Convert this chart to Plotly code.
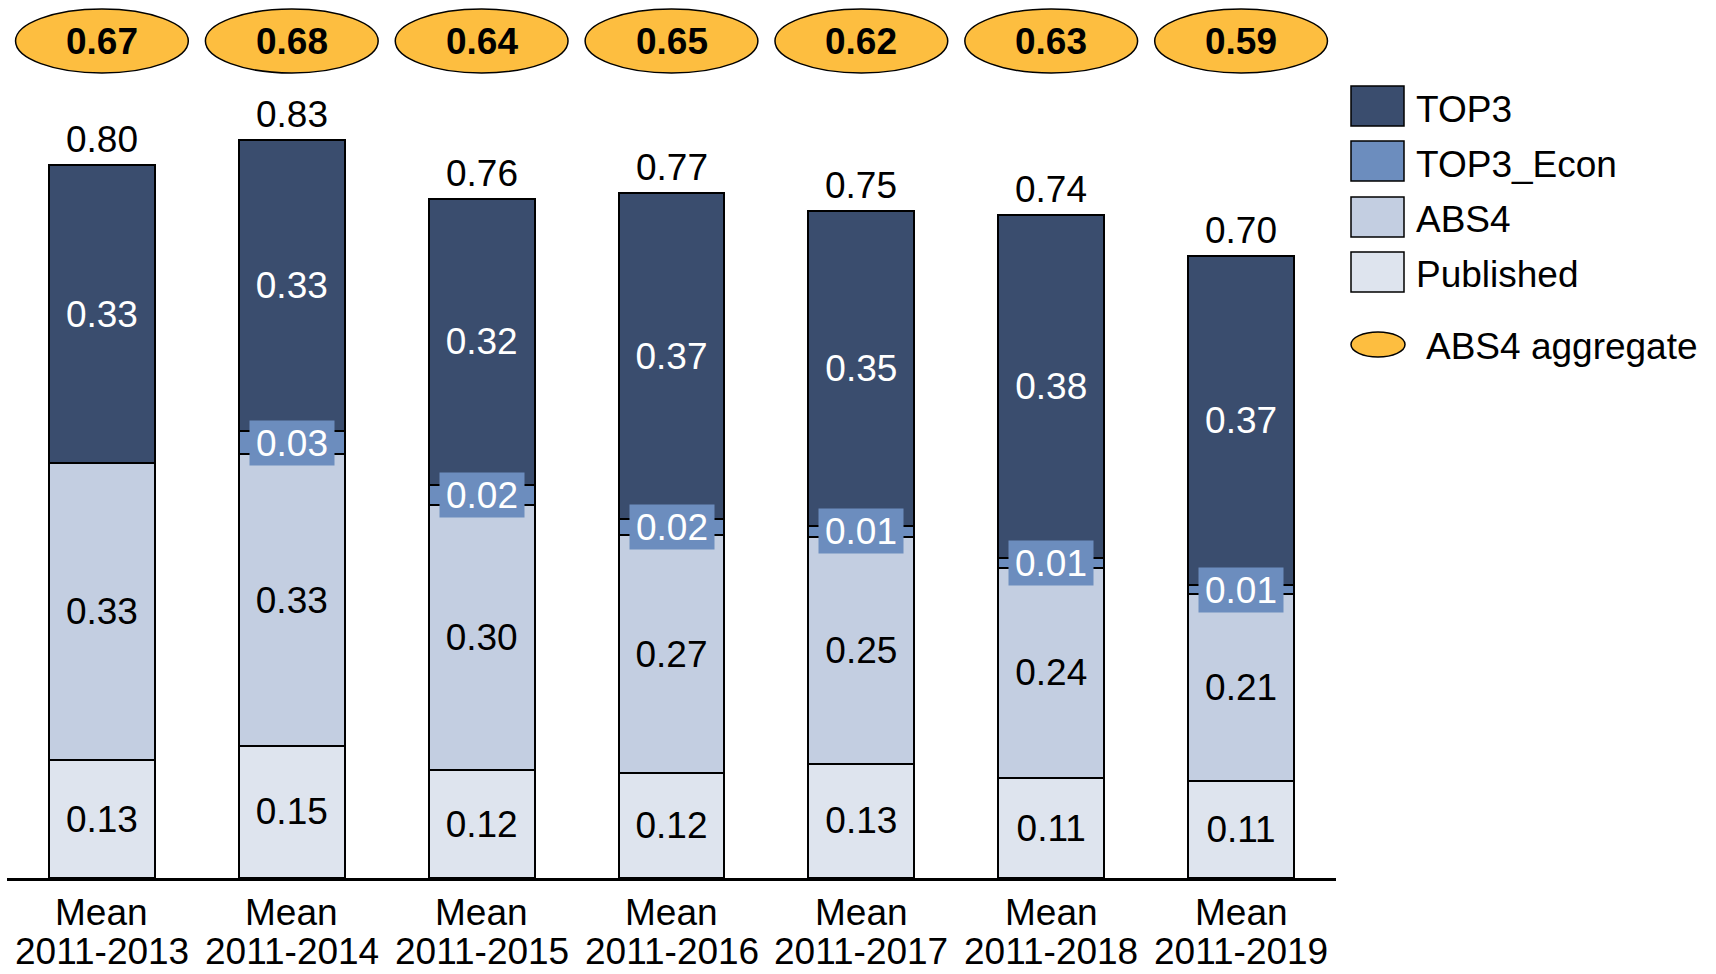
import plotly.graph_objects as go

# ---------------- data ----------------
periods = ["2011-2013", "2011-2014", "2011-2015", "2011-2016", "2011-2017", "2011-2018", "2011-2019"]
period_prefix = "Mean"
top3 = [0.334, 0.326, 0.320, 0.366, 0.353, 0.384, 0.369]
top3_econ = [0.0, 0.026, 0.023, 0.018, 0.013, 0.011, 0.010]
abs4 = [0.333, 0.327, 0.297, 0.266, 0.254, 0.236, 0.209]
published = [0.132, 0.148, 0.121, 0.118, 0.128, 0.112, 0.109]
abs4_aggregate = [0.67, 0.68, 0.64, 0.65, 0.62, 0.63, 0.59]

series_names = ["TOP3", "TOP3_Econ", "ABS4", "Published"]
colors = {"TOP3": "#3A4D6E", "TOP3_Econ": "#6C8DBE", "ABS4": "#C3CEE1", "Published": "#DEE4EE"}
gold = "#FDBE40"
FONT = "Liberation Sans, Arial, sans-serif"

W, H = 1716, 974
L, R, T, B = 7, 380, 0, 96
PW, PH = W - L - R, H - T - B
PX_PER_UNIT = 892.0


def px_x(px):
    return (px - L) / PW


def px_y(py):
    return (PH - py) / PH


x = list(range(len(periods)))
fmt = lambda v: f"{v:.2f}"

fig = go.Figure()
fig.add_trace(go.Bar(x=x, y=published, name="Published", marker=dict(color=colors["Published"], line=dict(color="black", width=2)),
                     text=[fmt(v) for v in published], textposition="inside", insidetextanchor="middle",
                     textfont=dict(size=37, color="black", family=FONT), textangle=0))
fig.add_trace(go.Bar(x=x, y=abs4, name="ABS4", marker=dict(color=colors["ABS4"], line=dict(color="black", width=2)),
                     text=[fmt(v) for v in abs4], textposition="inside", insidetextanchor="middle",
                     textfont=dict(size=37, color="black", family=FONT), textangle=0))
fig.add_trace(go.Bar(x=x, y=top3_econ, name="TOP3_Econ", marker=dict(color=colors["TOP3_Econ"], line=dict(color="black", width=2)),
                     textposition="none"))
fig.add_trace(go.Bar(x=x, y=top3, name="TOP3", marker=dict(color=colors["TOP3"], line=dict(color="black", width=2)),
                     text=[fmt(v) for v in top3], textposition="inside", insidetextanchor="middle",
                     textfont=dict(size=37, color="white", family=FONT), textangle=0))

annotations = []
shapes = []
for i in x:
    base_econ = published[i] + abs4[i]
    total = base_econ + top3_econ[i] + top3[i]
    # total label
    annotations.append(dict(x=i, y=total, xref="x", yref="y", text=fmt(total), showarrow=False,
                            yanchor="bottom", yshift=3, font=dict(size=37, color="black", family=FONT)))
    # econ label with box
    if top3_econ[i] > 0:
        annotations.append(dict(x=i, y=base_econ + top3_econ[i] / 2, xref="x", yref="y", text=fmt(top3_econ[i]),
                                showarrow=False, yanchor="middle", bgcolor=colors["TOP3_Econ"], width=84, height=44,
                                borderpad=0, font=dict(size=37, color="white", family=FONT)))
    # aggregate ellipse
    shapes.append(dict(type="circle", xref="x", yref="paper", x0=i - 0.455, x1=i + 0.455,
                       y0=px_y(73), y1=px_y(9), fillcolor=gold, line=dict(color="black", width=1.5), layer="above"))
    annotations.append(dict(x=i, y=px_y(41), xref="x", yref="paper", text=f"<b>{fmt(abs4_aggregate[i])}</b>",
                            showarrow=False, yanchor="middle", font=dict(size=37, color="black", family=FONT)))
    # category labels
    annotations.append(dict(x=i, y=px_y(912), xref="x", yref="paper", text=period_prefix, showarrow=False,
                            yanchor="middle", font=dict(size=37, color="black", family=FONT)))
    annotations.append(dict(x=i, y=px_y(951), xref="x", yref="paper", text=periods[i], showarrow=False,
                            yanchor="middle", font=dict(size=37, color="black", family=FONT)))

# custom legend
leg_rows = [(86, 126), (141, 181), (197, 237), (252, 292)]
for name, (y0, y1) in zip(series_names, leg_rows):
    shapes.append(dict(type="rect", xref="paper", yref="paper", x0=px_x(1351), x1=px_x(1404),
                       y0=px_y(y1), y1=px_y(y0), fillcolor=colors[name], line=dict(color="black", width=1.5)))
    annotations.append(dict(x=px_x(1414), y=px_y((y0 + y1) / 2 + 3), xref="paper", yref="paper", text=name,
                            showarrow=False, xanchor="left", yanchor="middle",
                            font=dict(size=37, color="black", family=FONT)))
shapes.append(dict(type="circle", xref="paper", yref="paper", x0=px_x(1351), x1=px_x(1405),
                   y0=px_y(357), y1=px_y(332), fillcolor=gold, line=dict(color="black", width=1.5)))
annotations.append(dict(x=px_x(1424), y=px_y(346), xref="paper", yref="paper", text="ABS4 aggregate",
                        showarrow=False, xanchor="left", yanchor="middle",
                        font=dict(size=37, color="black", family=FONT)))

fig.update_layout(
    width=W, height=H, margin=dict(l=L, r=R, t=T, b=B),
    barmode="stack", bargap=1 - 106 / 190,
    plot_bgcolor="white", paper_bgcolor="white",
    showlegend=False, hovermode=False,
    font=dict(family=FONT, color="black"),
    xaxis=dict(range=[-0.5, len(periods) - 0.5], showline=True, linecolor="black", linewidth=2.5,
               showticklabels=False, ticks="", showgrid=False, zeroline=False, fixedrange=True),
    yaxis=dict(range=[0, PH / PX_PER_UNIT], visible=False, showgrid=False, zeroline=False, fixedrange=True),
    annotations=annotations, shapes=shapes,
    uniformtext=dict(minsize=37, mode="show"),
)

fig.write_html("out.html", config={"displayModeBar": False})
